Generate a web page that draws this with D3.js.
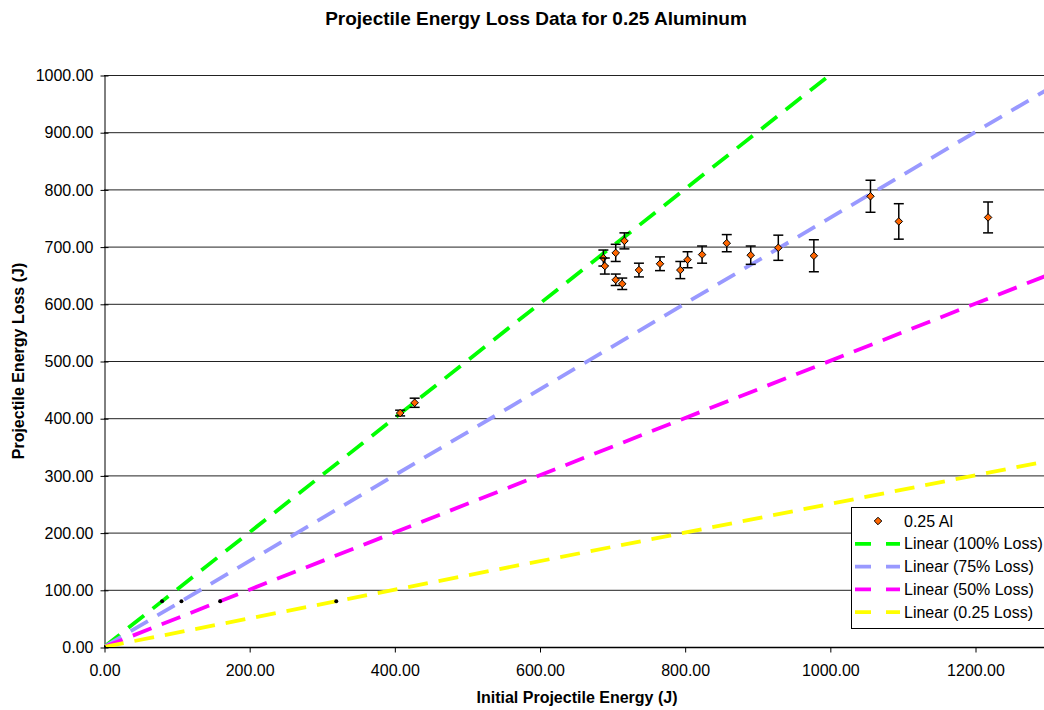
<!DOCTYPE html>
<html>
<head>
	<meta charset="utf-8">
	<script src="https://cdnjs.cloudflare.com/ajax/libs/d3/7.8.5/d3.min.js"></script>
	<style>
	body { margin: 0; background: #fff; }
	svg { font-family: "Liberation Sans", Arial, sans-serif; }
	.grid line { stroke: #222; stroke-width: 1px; }
	.axis text { font-size: 16px; fill: #000; }
	.axis path, .axis line { stroke: #000; }
	</style>
</head>
<body>
	<svg width="1044" height="710"></svg>
	<script>
	//measured data points (initial energy, energy loss, error)
	let energyIn   = [408, 428, 688, 690, 705, 705, 714, 717, 737, 766, 794, 804, 824, 858, 891, 929, 978, 1056, 1095, 1218];
	let energyLoss = [409, 427, 680, 666, 689, 642, 635, 710, 659, 670, 659, 677, 686, 706, 685, 698, 684, 788, 744, 751];
	let errLoss    = [5, 8, 14, 14, 15, 10, 10, 14, 12, 12, 15, 14, 15, 15, 16, 22, 28, 28, 31, 27];

	//trendlines: slope of loss vs energy
	let trendNames  = ["Linear (100% Loss)", "Linear (75% Loss)", "Linear (50% Loss)", "Linear (0.25 Loss)"];
	let trendSlopes = [1, 0.75, 0.5, 0.25];
	let trendColors = ["#00ff00", "#9999ff", "#ff00ff", "#ffff00"];
	//small points of the fitted helper series
	let helperX = [0, 80, 106.7, 160, 320];
	let helperY = [0, 80, 80, 80, 80];

	let xTicks = [0, 200, 400, 600, 800, 1000, 1200];
	let yTicks = d3.range(0, 1001, 100);

	let svg = d3.select("svg"),
		margin = {top: 75, left: 104, bottom: 647};

	//define scales
	let x = d3.scaleLinear().domain([0, 1200]).range([margin.left, 975]),
		y = d3.scaleLinear().domain([0, 1000]).range([margin.bottom, margin.top]);
	let xMax = x.invert(1050);

	svg.append("defs").append("clipPath").attr("id", "plot")
		.append("rect").attr("x", margin.left).attr("y", margin.top)
		.attr("width", 1050 - margin.left).attr("height", margin.bottom - margin.top);

	//gridlines
	svg.append("g").attr("class", "grid")
		.selectAll("line").data(yTicks.slice(1)).enter().append("line")
		.attr("x1", margin.left).attr("x2", 1050)
		.attr("y1", d => y(d) + 0.5).attr("y2", d => y(d) + 0.5);

	//y axis
	let yAxis = svg.append("g").attr("class", "axis")
		.attr("transform", "translate(" + (margin.left + 0.5) + ",0.5)")
		.call(d3.axisLeft(y).tickValues(yTicks).tickFormat(d3.format(".2f")).tickSize(4).tickSizeOuter(0).tickPadding(7));
	yAxis.selectAll(".tick line").attr("x2", 4).attr("x1", -4);

	//x axis
	svg.append("g").attr("class", "axis")
		.attr("transform", "translate(0.5," + (margin.bottom + 0.5) + ")")
		.call(d3.axisBottom(x).tickValues(xTicks).tickFormat(d3.format(".2f")).tickSize(5).tickSizeOuter(0).tickPadding(12))
		.select(".domain").attr("d", "M" + margin.left + ",0H1050").style("stroke-width", 1.5);

	//trendlines
	let line = d3.line().x(d => x(d[0])).y(d => y(d[1]));
	let plot = svg.append("g").attr("clip-path", "url(#plot)");
	plot.selectAll(".trend").data(trendSlopes).enter().append("path")
		.attr("class", "trend")
		.attr("d", k => line([[0, 0], [xMax, k * xMax]]))
		.style("fill", "none")
		.style("stroke", (k, i) => trendColors[i])
		.style("stroke-width", 3.8)
		.style("stroke-dasharray", "20,11");

	//helper points
	plot.selectAll(".helper").data(helperX).enter().append("circle")
		.attr("cx", d => x(d)).attr("cy", (d, i) => y(helperY[i]))
		.attr("r", 2).style("fill", "#000");

	//error bars
	let pts = svg.append("g").selectAll(".pt").data(energyIn).enter().append("g")
		.attr("transform", (d, i) => "translate(" + x(d) + ",0)");
	pts.append("line")
		.attr("y1", (d, i) => y(energyLoss[i] - errLoss[i]))
		.attr("y2", (d, i) => y(energyLoss[i] + errLoss[i]))
		.style("stroke", "#000").style("stroke-width", 1.5);
	[-1, 1].forEach(function(s) {
		pts.append("line")
			.attr("x1", -5).attr("x2", 5)
			.attr("y1", (d, i) => y(energyLoss[i] + s * errLoss[i]))
			.attr("y2", (d, i) => y(energyLoss[i] + s * errLoss[i]))
			.style("stroke", "#000").style("stroke-width", 1.5);
	});

	//diamond markers
	let diamond = d3.symbol().type(d3.symbolDiamond2).size(36);
	pts.append("path")
		.attr("transform", (d, i) => "translate(0," + y(energyLoss[i]) + ")")
		.attr("d", diamond)
		.style("fill", "#ff6600").style("stroke", "#000").style("stroke-width", 1);

	//legend
	let legend = svg.append("g").attr("transform", "translate(851,507)");
	legend.append("rect").attr("x", 0.5).attr("y", 0.5).attr("width", 220).attr("height", 121)
		.style("fill", "#fff").style("stroke", "#000");
	let rowH = 22.8;
	legend.append("path").attr("d", diamond)
		.attr("transform", "translate(27,14)")
		.style("fill", "#ff6600").style("stroke", "#000");
	legend.append("text").attr("x", 53).attr("y", 14).attr("dy", "0.35em")
		.style("font-size", "16px").text("0.25 Al");
	trendNames.forEach(function(name, i) {
		let yy = 14 + rowH * (i + 1);
		legend.append("line").attr("x1", 4).attr("x2", 49).attr("y1", yy).attr("y2", yy)
			.style("stroke", trendColors[i]).style("stroke-width", 3.8)
			.style("stroke-dasharray", "16,15");
		legend.append("text").attr("x", 53).attr("y", yy).attr("dy", "0.35em")
			.style("font-size", "16px").text(name);
	});

	//titles
	svg.append("text").attr("x", 536).attr("y", 25).attr("text-anchor", "middle")
		.style("font-size", "19px").style("font-weight", "bold")
		.text("Projectile Energy Loss Data for 0.25 Aluminum");
	svg.append("text").attr("x", 577).attr("y", 703).attr("text-anchor", "middle")
		.style("font-size", "16px").style("font-weight", "bold")
		.text("Initial Projectile Energy (J)");
	svg.append("text").attr("transform", "translate(24,361) rotate(-90)").attr("text-anchor", "middle")
		.style("font-size", "16px").style("font-weight", "bold")
		.text("Projectile Energy Loss (J)");
	</script>
</body>
</html>
